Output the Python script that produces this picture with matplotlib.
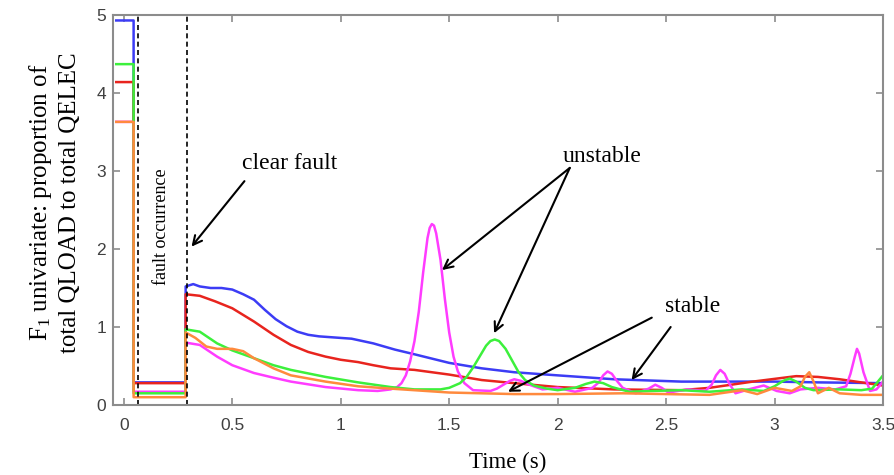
import matplotlib
matplotlib.use('Agg')
import matplotlib.pyplot as plt

# time (s) and F1 values, one list pair per case
t_blue = [-0.035, 0.045, 0.045, 0.285, 0.285, 0.32, 0.35, 0.40, 0.45, 0.50, 0.55, 0.60, 0.65, 0.70,
          0.75, 0.80, 0.85, 0.90, 0.95, 1.00, 1.05, 1.10, 1.15, 1.20, 1.25, 1.34, 1.50, 1.65, 1.80,
          2.00, 2.26, 2.57, 2.80, 3.00, 3.20, 3.50]
y_blue = [4.93, 4.93, 0.29, 0.29, 1.52, 1.55, 1.52, 1.50, 1.50, 1.48, 1.42, 1.35, 1.22, 1.10,
          1.01, 0.94, 0.90, 0.88, 0.87, 0.86, 0.85, 0.82, 0.79, 0.75, 0.71, 0.65, 0.54, 0.47, 0.42,
          0.38, 0.33, 0.30, 0.30, 0.30, 0.29, 0.28]

t_red = [-0.035, 0.045, 0.045, 0.285, 0.285, 0.35, 0.42, 0.50, 0.60, 0.69, 0.77, 0.85, 0.93,
         1.00, 1.08, 1.15, 1.23, 1.34, 1.50, 1.65, 1.80, 2.00, 2.26, 2.57, 2.70, 2.90, 3.10,
         3.20, 3.30, 3.50]
y_red = [4.14, 4.14, 0.28, 0.28, 1.42, 1.40, 1.33, 1.24, 1.07, 0.90, 0.77, 0.68, 0.62,
         0.58, 0.55, 0.51, 0.47, 0.45, 0.39, 0.32, 0.28, 0.23, 0.20, 0.19, 0.22, 0.30, 0.37,
         0.36, 0.33, 0.25]

t_mag = [-0.035, 0.045, 0.045, 0.285, 0.285, 0.35, 0.43, 0.50, 0.60, 0.69, 0.77, 0.93, 1.08,
         1.17, 1.23, 1.26, 1.28, 1.30, 1.32, 1.34, 1.36, 1.38, 1.40, 1.41, 1.42, 1.43, 1.44,
         1.46, 1.48, 1.50, 1.52, 1.54, 1.57, 1.61, 1.69, 1.72, 1.75, 1.78, 1.80, 1.83, 1.87,
         1.93, 2.00, 2.08, 2.16, 2.19, 2.21, 2.23, 2.25, 2.27, 2.30, 2.36, 2.42, 2.45, 2.48,
         2.51, 2.60, 2.68, 2.71, 2.73, 2.75, 2.77, 2.79, 2.82, 2.88, 2.95, 3.01, 3.07, 3.12,
         3.20, 3.28, 3.33, 3.35, 3.37, 3.38, 3.39, 3.41, 3.44, 3.47, 3.50]
y_mag = [3.63, 3.63, 0.17, 0.17, 0.80, 0.77, 0.62, 0.51, 0.41, 0.35, 0.30, 0.23, 0.19,
         0.18, 0.20, 0.23, 0.28, 0.38, 0.56, 0.82, 1.20, 1.70, 2.14, 2.27, 2.32, 2.30, 2.20,
         1.86, 1.36, 0.93, 0.62, 0.43, 0.28, 0.19, 0.18, 0.21, 0.26, 0.31, 0.33, 0.31, 0.26,
         0.20, 0.22, 0.17, 0.22, 0.29, 0.38, 0.43, 0.40, 0.32, 0.22, 0.15, 0.21, 0.26, 0.22,
         0.16, 0.20, 0.18, 0.26, 0.38, 0.45, 0.40, 0.28, 0.15, 0.20, 0.25, 0.18, 0.15, 0.20,
         0.22, 0.20, 0.24, 0.40, 0.62, 0.72, 0.66, 0.42, 0.18, 0.20, 0.30]

t_green = [-0.035, 0.045, 0.045, 0.285, 0.285, 0.35, 0.43, 0.50, 0.60, 0.69, 0.77, 0.93,
           1.08, 1.23, 1.34, 1.46, 1.50, 1.55, 1.58, 1.61, 1.64, 1.67, 1.69, 1.71, 1.73,
           1.76, 1.79, 1.82, 1.85, 1.89, 1.95, 2.00, 2.08, 2.13, 2.17, 2.21, 2.25, 2.33,
           2.43, 2.57, 2.70, 2.85, 2.95, 3.00, 3.04, 3.07, 3.10, 3.14, 3.18, 3.30, 3.40,
           3.45, 3.50]
y_green = [4.37, 4.37, 0.15, 0.15, 0.97, 0.94, 0.79, 0.70, 0.60, 0.51, 0.45, 0.36,
           0.29, 0.23, 0.20, 0.20, 0.22, 0.28, 0.36, 0.48, 0.62, 0.76, 0.82, 0.84, 0.82,
           0.72, 0.57, 0.42, 0.32, 0.25, 0.21, 0.19, 0.22, 0.27, 0.30, 0.28, 0.23, 0.17,
           0.18, 0.19, 0.17, 0.20, 0.18, 0.24, 0.31, 0.34, 0.30, 0.22, 0.19, 0.20, 0.19,
           0.21, 0.38]

t_orange = [-0.035, 0.045, 0.045, 0.285, 0.285, 0.33, 0.38, 0.43, 0.50, 0.55, 0.60, 0.69,
            0.77, 0.93, 1.08, 1.23, 1.50, 1.80, 2.00, 2.30, 2.50, 2.70, 2.85, 2.92, 3.00,
            3.08, 3.12, 3.14, 3.16, 3.18, 3.20, 3.25, 3.30, 3.40, 3.50]
y_orange = [3.63, 3.63, 0.10, 0.10, 0.93, 0.86, 0.75, 0.72, 0.72, 0.69, 0.60, 0.47,
            0.38, 0.30, 0.24, 0.21, 0.16, 0.14, 0.14, 0.15, 0.14, 0.13, 0.19, 0.14, 0.22,
            0.18, 0.24, 0.36, 0.42, 0.30, 0.15, 0.22, 0.15, 0.13, 0.13]

fault_on = 0.065
fault_clear = 0.29

plt.rcParams['font.family'] = ['Liberation Serif', 'DejaVu Serif']
plt.rcParams['mathtext.fontset'] = 'custom'
plt.rcParams['mathtext.rm'] = 'Liberation Serif'

fig = plt.figure(figsize=(8.95, 4.75), dpi=100)
ax = fig.add_axes([113 / 895, 70 / 475, 770 / 895, 390 / 475])

ax.plot(t_blue, y_blue, color='#3c3cf5', lw=1.8)
ax.plot(t_red, y_red, color='#e8241e', lw=1.8)
ax.plot(t_mag, y_mag, color='#ff3cff', lw=1.8)
ax.plot(t_green, y_green, color='#3cf03c', lw=1.8)
ax.plot(t_orange, y_orange, color='#ff8a3d', lw=1.8)

ax.axvline(fault_on, color='black', ls=(0, (3, 2)), lw=1.2)
ax.axvline(fault_clear, color='black', ls=(0, (3, 2)), lw=1.2)

ax.set_xlim(-0.05, 3.5)
ax.set_ylim(0, 5)
ax.set_xticks([0, 0.5, 1, 1.5, 2, 2.5, 3, 3.5])
ax.set_xticklabels(['0', '0.5', '1', '1.5', '2', '2.5', '3', '3.5'])
ax.set_yticks([0, 1, 2, 3, 4, 5])

for s in ax.spines.values():
    s.set_color('#8c8c8c')
    s.set_linewidth(1.5)
ax.tick_params(direction='in', top=True, right=True, length=5, width=1.2,
               color='#8c8c8c', labelcolor='#404040', labelsize=12.5)
ax.tick_params(axis='x', pad=9)
ax.tick_params(axis='y', pad=5)
for lab in ax.get_xticklabels() + ax.get_yticklabels():
    lab.set_family('Liberation Sans')

ax.set_xlabel('Time (s)', fontsize=16.5)
ax.xaxis.set_label_coords(0.513, -0.12)
ax.set_ylabel('$\\mathregular{F_1}$ univariate: proportion of\ntotal QLOAD to total QELEC',
              fontsize=18, linespacing=1.25)
ax.yaxis.set_label_coords(-0.042, 0.52)

arr = dict(arrowstyle='->', color='black', lw=1.5, mutation_scale=16, shrinkA=0, shrinkB=0)
ax.text(0.174, 2.29, 'fault occurrence', rotation=90, fontsize=13, ha='center', va='center')
ax.text(0.766, 3.10, 'clear fault', fontsize=17, ha='center', va='center')
ax.annotate('', xy=(0.312, 2.03), xytext=(0.556, 2.87), arrowprops=arr)
ax.text(2.207, 3.18, 'unstable', fontsize=17, ha='center', va='center')
ax.annotate('', xy=(1.467, 1.73), xytext=(2.056, 3.04), arrowprops=arr)
ax.annotate('', xy=(1.707, 0.92), xytext=(2.056, 3.04), arrowprops=arr)
ax.text(2.622, 1.26, 'stable', fontsize=17, ha='center', va='center')
ax.annotate('', xy=(1.771, 0.17), xytext=(2.434, 1.12), arrowprops=arr)
ax.annotate('', xy=(2.341, 0.32), xytext=(2.521, 1.00), arrowprops=arr)

fig.savefig('out.png', dpi=100)
